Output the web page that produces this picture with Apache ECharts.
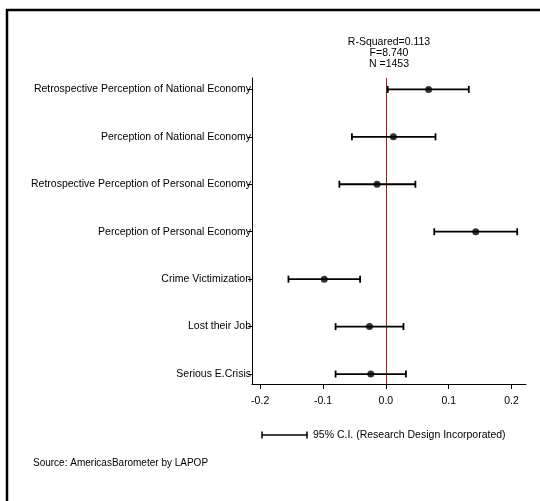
<!DOCTYPE html>
<html>
<head>
<meta charset="utf-8">
<script src="https://cdn.jsdelivr.net/npm/echarts@6/dist/echarts.min.js"></script>
<style>html,body{margin:0;padding:0;background:#fff}#c{width:540px;height:501px}</style>
</head>
<body>
<div id="c"></div>
<script>
const categories = [
  'Retrospective Perception of National Economy',
  'Perception of National Economy',
  'Retrospective Perception of Personal Economy',
  'Perception of Personal Economy',
  'Crime Victimization',
  'Lost their Job',
  'Serious E.Crisis'
];
const estimates = [0.068, 0.012, -0.014, 0.143, -0.098, -0.026, -0.024];
const ciLow     = [0.003, -0.054, -0.074, 0.077, -0.155, -0.080, -0.080];
const ciHigh    = [0.132, 0.079, 0.047, 0.209, -0.041, 0.028, 0.032];
const xTicks = [-0.2, -0.1, 0.0, 0.1, 0.2];
const statLines = ['R-Squared=0.113', 'F=8.740', 'N =1453'];
const legendText = '95% C.I. (Research Design Incorporated)';
const sourceText = 'Source: AmericasBarometer by LAPOP';

const FONT = 'Liberation Sans, Arial, sans-serif';
const idx = categories.map((_, i) => i);

const chart = echarts.init(document.getElementById('c'), null, {renderer: 'canvas'});
const option = {
  animation: false,
  backgroundColor: '#fff',
  textStyle: {fontFamily: FONT},
  grid: {left: 252, right: 14, top: 78, bottom: 117, containLabel: false},
  xAxis: {
    type: 'value', min: -0.213, max: 0.223,
    axisLine: {show: true, onZero: false, lineStyle: {color: '#000', width: 1}},
    axisTick: {show: true, length: 5, customValues: xTicks, lineStyle: {color: '#000'}},
    axisLabel: {customValues: xTicks, formatter: v => Number(v).toFixed(1), color: '#000', fontSize: 10.5, fontFamily: FONT, margin: 12},
    splitLine: {show: false}
  },
  yAxis: {
    type: 'value', inverse: true, min: -0.24, max: 6.21,
    axisLine: {show: true, onZero: false, lineStyle: {color: '#000', width: 1}},
    axisTick: {show: true, length: 4, customValues: idx, lineStyle: {color: '#000'}},
    axisLabel: {customValues: idx, formatter: v => categories[Math.round(v)] || '', color: '#000', fontSize: 10.5, fontFamily: FONT, margin: 1},
    splitLine: {show: false}
  },
  series: [
    {
      type: 'custom',
      data: idx.map(i => [ciLow[i], ciHigh[i], i]),
      renderItem: function (params, api) {
        const a = api.coord([api.value(0), api.value(2)]);
        const b = api.coord([api.value(1), api.value(2)]);
        const h = 3.5;
        const st = {stroke: '#000', lineWidth: 1.8};
        return {
          type: 'group',
          children: [
            {type: 'line', shape: {x1: a[0], y1: a[1], x2: b[0], y2: b[1]}, style: st},
            {type: 'line', shape: {x1: a[0], y1: a[1] - h, x2: a[0], y2: a[1] + h}, style: st},
            {type: 'line', shape: {x1: b[0], y1: b[1] - h, x2: b[0], y2: b[1] + h}, style: st}
          ]
        };
      },
      z: 3
    },
    {
      type: 'scatter',
      data: idx.map(i => [estimates[i], i]),
      symbol: 'circle', symbolSize: 7,
      itemStyle: {color: '#000'},
      z: 4,
      markLine: {
        silent: true, symbol: 'none',
        label: {show: false},
        lineStyle: {color: '#a01c1c', width: 1, type: 'solid'},
        data: [{xAxis: 0}],
        z: 2
      }
    }
  ],
  graphic: [
    {type: 'rect', shape: {x: 7, y: 10, width: 700, height: 700}, style: {fill: null, stroke: '#000', lineWidth: 2.5}, silent: true},
    {type: 'text', x: 389, y: 42, style: {text: statLines[0], font: '10.5px ' + FONT, fill: '#000', align: 'center', verticalAlign: 'middle'}},
    {type: 'text', x: 389, y: 53, style: {text: statLines[1], font: '10.5px ' + FONT, fill: '#000', align: 'center', verticalAlign: 'middle'}},
    {type: 'text', x: 389, y: 64, style: {text: statLines[2], font: '10.5px ' + FONT, fill: '#000', align: 'center', verticalAlign: 'middle'}},
    {type: 'line', shape: {x1: 262, y1: 435, x2: 307, y2: 435}, style: {stroke: '#000', lineWidth: 1.5}},
    {type: 'line', shape: {x1: 262, y1: 431.5, x2: 262, y2: 438.5}, style: {stroke: '#000', lineWidth: 1.5}},
    {type: 'line', shape: {x1: 307, y1: 431.5, x2: 307, y2: 438.5}, style: {stroke: '#000', lineWidth: 1.5}},
    {type: 'text', x: 313, y: 435, style: {text: legendText, font: '10.5px ' + FONT, fill: '#000', align: 'left', verticalAlign: 'middle'}},
    {type: 'text', x: 33, y: 463, style: {text: sourceText, font: '10px ' + FONT, fill: '#000', align: 'left', verticalAlign: 'middle'}}
  ]
};
chart.setOption(option);
</script>
</body>
</html>
